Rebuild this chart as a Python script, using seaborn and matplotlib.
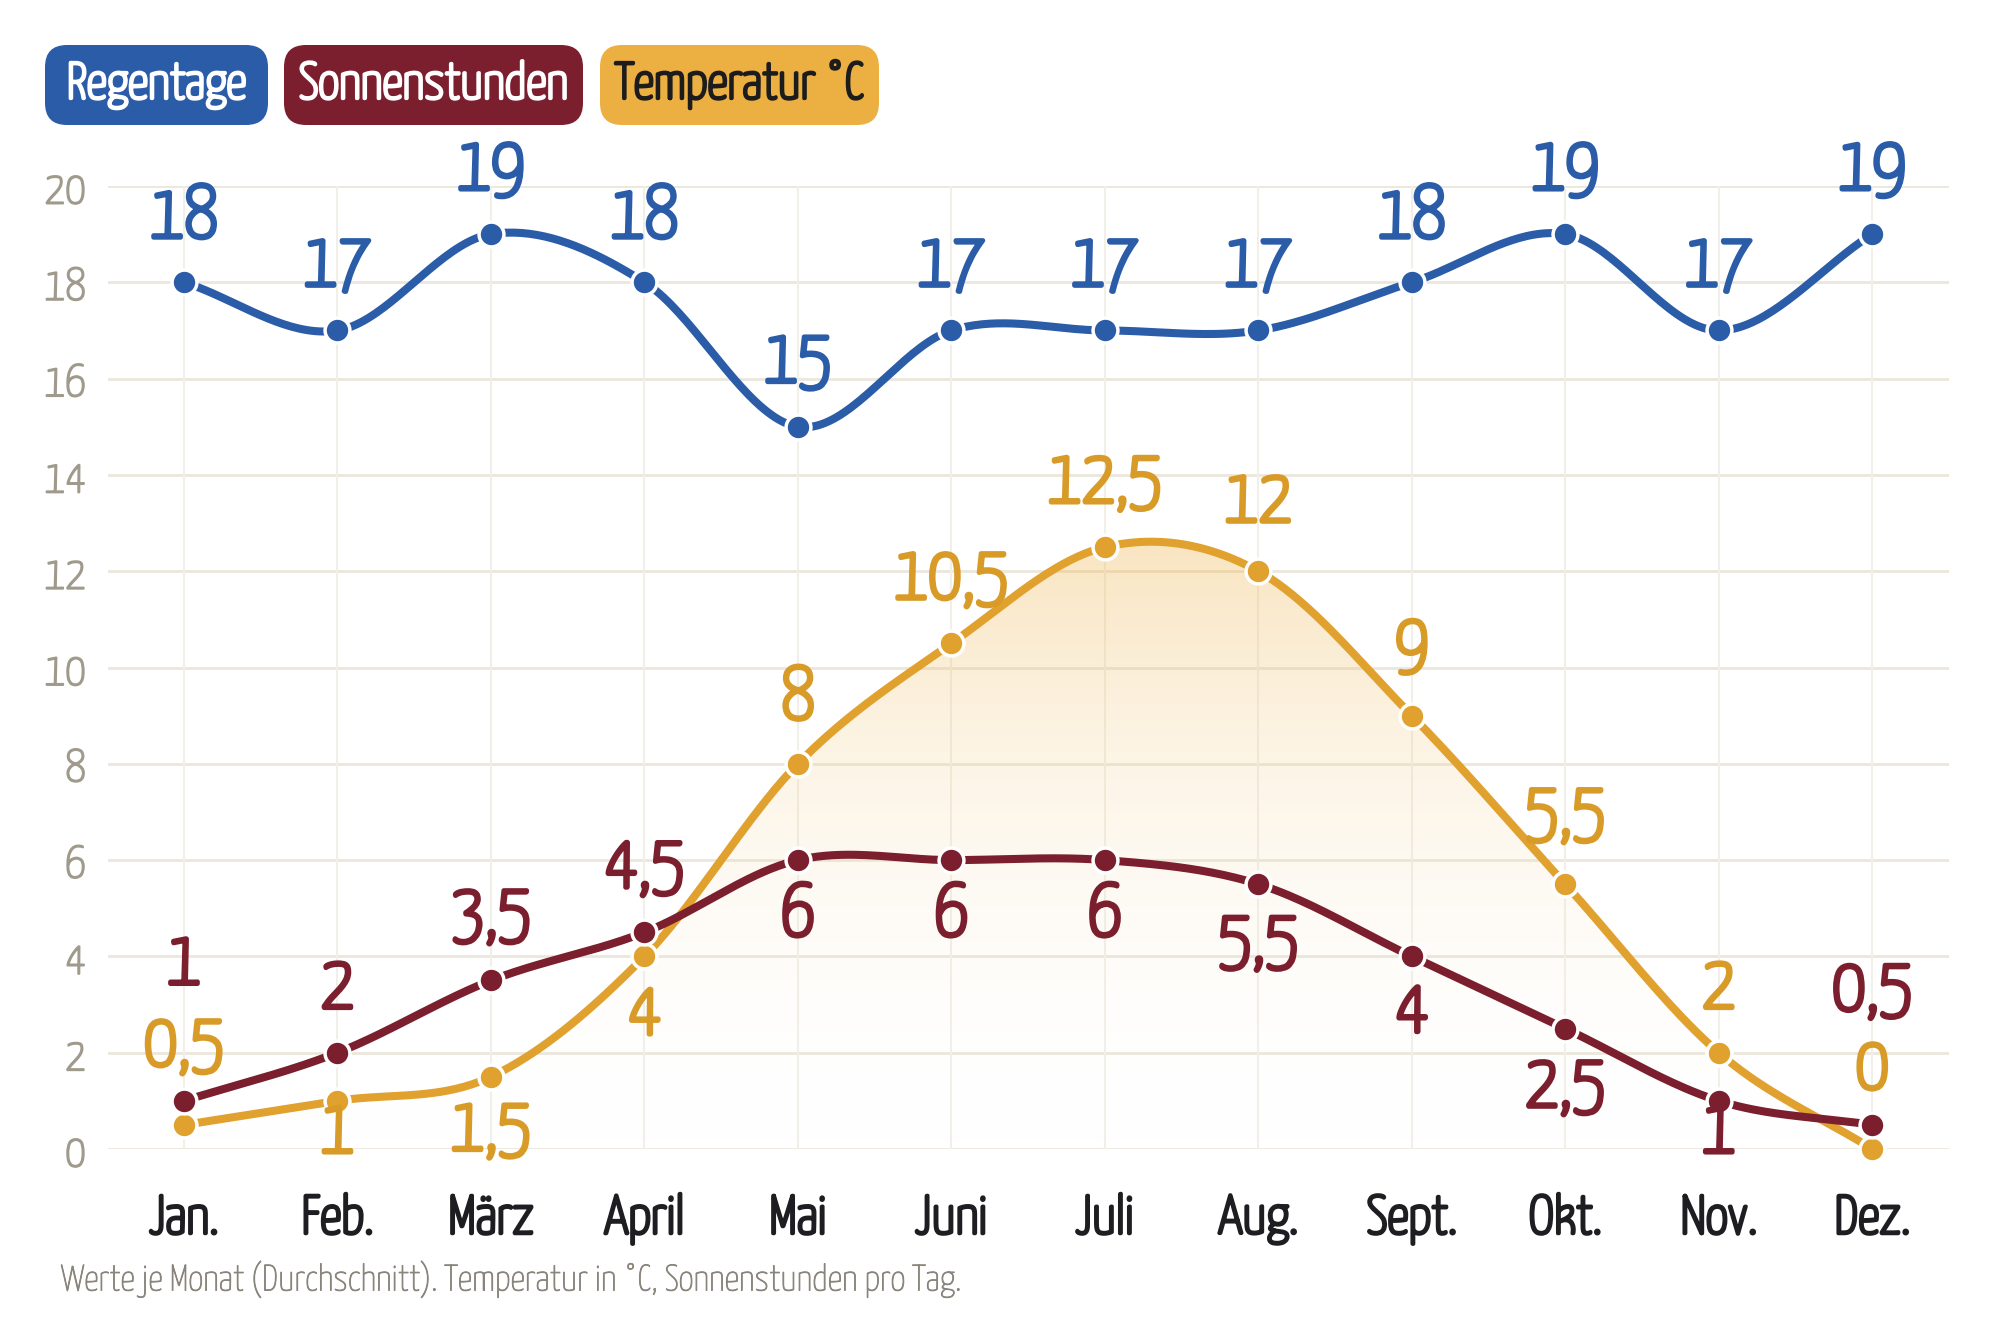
import numpy as np
import seaborn as sns
import matplotlib.pyplot as plt
import matplotlib.patheffects as pe
from matplotlib.patches import FancyBboxPatch, Polygon
from matplotlib.colors import LinearSegmentedColormap

# data
months = ["Jan.", "Feb.", "März", "April", "Mai", "Juni", "Juli", "Aug.", "Sept.", "Okt.", "Nov.", "Dez."]
regentage = [18, 17, 19, 18, 15, 17, 17, 17, 18, 19, 17, 19]
sonnenstunden = [1, 2, 3.5, 4.5, 6, 6, 6, 5.5, 4, 2.5, 1, 0.5]
temperatur = [0.5, 1, 1.5, 4, 8, 10.5, 12.5, 12, 9, 5.5, 2, 0]
legend_names = ["Regentage", "Sonnenstunden", "Temperatur °C"]
yticks = [0, 2, 4, 6, 8, 10, 12, 14, 16, 18, 20]
footnote = "Werte je Monat (Durchschnitt). Temperatur in °C, Sonnenstunden pro Tag."

# label offsets from the point (in y units), + above / - below
regen_dy = [1.35] * 12
sonne_dy = [2.85, 1.35, 1.35, 1.35, -1.15, -1.15, -1.15, -1.2, -1.15, -1.2, -0.65, 2.8]
temp_dy = [1.65, -0.65, -1.1, -1.2, 1.35, 1.35, 1.35, 1.45, 1.45, 1.45, 1.35, 1.67]

BLUE = "#2b5ca8"
RED = "#7b1e2d"
ORANGE = "#e0a12f"
ORANGE_LEG = "#ecb042"
ORANGE_TXT = "#d99b28"
GRID = "#ebe7dc"
GREY = "#a09a8c"

sns.set_theme(style="white")
plt.rcParams["font.family"] = ["Yanone Kaffeesatz", "DejaVu Sans"]


def bold(color, w=3.2):
    # the installed font is a light cut, so thicken strokes
    return [pe.withStroke(linewidth=w, foreground=color)]


def smooth(y, n=40):
    # catmull-rom curve through the points
    x = np.arange(len(y), dtype=float)
    p = np.array(y, dtype=float)
    pp = np.concatenate([[2 * p[0] - p[1]], p, [2 * p[-1] - p[-2]]])
    xs, ys = [], []
    for i in range(len(p) - 1):
        p0, p1, p2, p3 = pp[i], pp[i + 1], pp[i + 2], pp[i + 3]
        t = np.linspace(0, 1, n, endpoint=False)
        yy = 0.5 * (2 * p1 + (-p0 + p2) * t + (2 * p0 - 5 * p1 + 4 * p2 - p3) * t ** 2
                    + (-p0 + 3 * p1 - 3 * p2 + p3) * t ** 3)
        xs.extend(x[i] + t)
        ys.extend(yy)
    xs.append(x[-1])
    ys.append(p[-1])
    return np.array(xs), np.array(ys)


W, H = 2000, 1333
fig = plt.figure(figsize=(20, 13.33), dpi=100)
ax = fig.add_axes([108 / W, (H - 1149) / H, 1841 / W, 963 / H])
for s in ax.spines.values():
    s.set_visible(False)

# grid
for yv in yticks:
    ax.axhline(yv, color=GRID, lw=2, zorder=0)
for i in range(len(months)):
    ax.plot([i, i], [0, 20], color="#f1efe8", lw=1.5, zorder=0)

# gradient fill under temperature
tx, ty = smooth(temperatur)
poly = Polygon(np.column_stack([np.concatenate([tx, [tx[-1], tx[0]]]),
                                np.concatenate([ty, [0, 0]])]),
               closed=True, facecolor="none", edgecolor="none")
ax.add_patch(poly)
cmap = LinearSegmentedColormap.from_list("g", [(1, 1, 1, 0.0), (0.93, 0.69, 0.26, 0.34)])
grad = np.linspace(0, 1, 256).reshape(-1, 1)
im = ax.imshow(grad, cmap=cmap, origin="lower", aspect="auto",
               extent=[0, 11, 0, 12.8], zorder=1)
im.set_clip_path(poly)
ax.set_xlim(-0.495, 11.5)
ax.set_ylim(0, 20)

series = [
    (regentage, BLUE, BLUE, regen_dy),
    (temperatur, ORANGE, ORANGE_TXT, temp_dy),
    (sonnenstunden, RED, RED, sonne_dy),
]
for vals, col, tcol, dys in series:
    sx, sy = smooth(vals)
    sns.lineplot(x=sx, y=sy, ax=ax, color=col, lw=5.8, sort=False, zorder=3,
                 clip_on=False, solid_capstyle="round")
    sns.scatterplot(x=np.arange(12), y=vals, ax=ax, color=col, s=320,
                    edgecolor="white", linewidth=2.5, zorder=4, clip_on=False)
    for i, v in enumerate(vals):
        lab = f"{v:g}".replace(".", ",")
        ax.text(i, v + dys[i], lab, color=tcol, fontsize=54, ha="center",
                va="center", zorder=5, path_effects=bold(tcol, 3.4))

ax.set_yticks(yticks)
ax.set_yticklabels([str(t) for t in yticks], fontsize=33, color=GREY)
for t in ax.get_yticklabels():
    t.set_path_effects(bold(GREY, 1.4))
ax.set_xticks(range(12))
ax.set_xticklabels(months, fontsize=39, color="#1e1e22")
for t in ax.get_xticklabels():
    t.set_path_effects(bold("#1e1e22", 2.6))
ax.tick_params(axis="y", length=0, pad=16)
ax.tick_params(axis="x", length=0, pad=32)
ax.set_xlabel("")
ax.set_ylabel("")

# legend boxes
boxes = [(45, 268, BLUE, "white"), (284, 583, RED, "white"), (600, 879, ORANGE_LEG, "#1c1c1c")]
for name, (x0, x1, fc, tc) in zip(legend_names, boxes):
    y0, y1 = 45, 125
    p = FancyBboxPatch((x0 / W, 1 - y1 / H), (x1 - x0) / W, (y1 - y0) / H,
                       boxstyle="round,pad=0,rounding_size=0.011",
                       transform=fig.transFigure, facecolor=fc, edgecolor="none",
                       mutation_aspect=W / H)
    fig.patches.append(p)
    fig.text((x0 + x1) / 2 / W, 1 - (y0 + y1) / 2 / H, name, color=tc,
             fontsize=37, ha="center", va="center", path_effects=bold(tc, 2.4))

fig.text(61 / W, 1 - 1279 / H, footnote, color="#8a857c", fontsize=26.5,
         ha="left", va="center", path_effects=bold("#8a857c", 0.6))

fig.savefig("out.png", dpi=100, facecolor="white")
